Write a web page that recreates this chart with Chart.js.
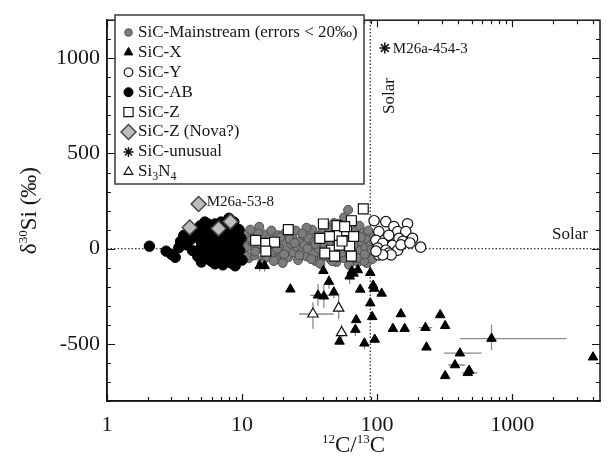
<!DOCTYPE html>
<html>
<head>
<meta charset="utf-8">
<script src="https://cdn.jsdelivr.net/npm/chart.js@4.4.1/dist/chart.umd.min.js"></script>
<style>
  html, body { margin: 0; padding: 0; background: #fff; }
  #myChart { display: block; }
</style>
</head>
<body>
<canvas id="myChart" width="609" height="464" style="width:609px;height:464px"></canvas>
<script>
// ---- data: 12C/13C (x) vs delta30Si permil (y) ----
const mainstreamX = [10,10.3,10.6,11,11.2,11.5,12,12.3,12.7,13,13.4,13.8,14.2,14.5,15,15.5,16,16.5,17,17.5,18,18.5,19,19.5,20,21,21.5,22,23,23.5,24,25,25.5,26,27,28,28.5,29,30,31,32,33,33.5,34,35,36,37,38,39,40,41,42,43,44,45,46,47,48,49,50,51,52,53,54,55,56,57,58,60,61,62,63,64,65,66,68,69,70,72,73,74,75,77,78,80,82,84,86,88,90,92,94,14,20,30,38,48,57,62,80,
  10.8,11.8,12.5,13.2,14,15.2,16.2,17.2,18.2,19.2,20.5,22.5,24.5,26.5,28,30.5,32.5,35,37.5,40.5,43.5,46.5,50.5,54.5,58.5,63,67,71,76,81,86,91];
const mainstreamY = [40,-20,75,10,-50,100,30,-35,60,-5,115,40,-60,75,5,-30,55,95,-10,30,-55,70,15,-25,45,85,-5,-45,25,60,-20,95,10,-60,40,-15,70,20,-40,55,5,100,-25,35,-65,70,0,40,-45,90,15,-20,60,110,-55,30,75,-10,50,-70,20,130,-35,65,5,100,-50,40,-20,204,80,10,-60,150,45,-30,95,15,-70,60,120,-10,35,-45,85,5,-75,50,-25,20,-55,70,-80,-75,110,-80,135,165,-85,-65,
  -40,50,-15,80,20,-45,35,-65,0,60,-30,50,30,-35,80,0,-55,25,65,-35,-5,-65,55,-20,90,-35,20,-50,60,-30,95,-5];

const abX = [2.06,2.74,3.0,3.2,3.4,3.5,3.7,4.0,4.2,4.5,4.3,3.9,4.7,4.8,4.9,5.0,5.1,5.2,5.3,5.4,5.5,5.6,5.7,5.8,5.9,6.0,6.1,6.2,6.3,6.4,6.5,6.6,6.7,6.8,6.9,7.0,7.1,7.2,7.4,7.5,7.6,7.8,7.9,8.0,8.1,8.2,8.4,8.5,8.6,8.7,8.9,9.0,9.2,9.3,9.5,9.6,9.8,10.0,5.0,6.3,7.2,8.3,8.0,7.0,5.6,4.7];
const abY = [13,-13,-30,-45,5,38,70,82,50,100,-10,20,60,-20,120,20,-50,90,140,-5,50,-40,110,10,-65,75,30,-25,130,0,-55,90,45,-15,60,-45,115,15,-70,80,35,-30,150,5,60,-55,110,25,-20,140,-90,70,-40,30,100,-10,55,-60,-70,-80,-85,-75,160,140,130,-40];

const yGrainX = [95,116,133,168,142,103,122,163,145,98,110,130,155,183,101,116,142,103,122,210,127,110,98,150,175];
const yGrainY = [147,142,116,131,90,90,70,90,54,44,28,18,39,54,3,-8,-8,-33,-23,8,-33,-33,-13,20,30];

const zX = [12.6,15,17.4,15,22,37.7,44.6,52.5,59.5,64.5,50.5,57.5,79,46,52.5,62.6,64.5,41,48.5,67,40,55];
const zY = [44,28,34,-13,100,54,64,70,95,147,121,116,209,-8,18,13,-39,-23,-39,64,130,40];

const novaX = [4.77,4.1,6.7,8.2];
const novaY = [235,111,106,142];

const xGrainX = [13.5,14.7,22.8,40,44,47.8,36.5,40.3,62.6,67,72,65,89,75,93.5,95,108,89,92,70,69,96,80.5,52.7,150,131,160,228,232,293,319,319,377,410,469,480,703,3970];
const xGrainY = [-90,-90,-213,-116,-173,-229,-245,-250,-145,-130,-112,-118,-126,-214,-193,-209,-235,-286,-358,-374,-425,-477,-497,-487,-343,-420,-420,-415,-518,-348,-405,-668,-611,-549,-652,-640,-472,-570];

const si3n4X = [33.5,51.9,54.6];
const si3n4Y = [-343,-312,-441];

const unusualX = [114];
const unusualY = [1054];

// error bars: horizontal (at y, from..to in x) and vertical (at x, from..to in y)
const hBarY    = [-472,-549,-611,-652,-415,-343,-245];
const hBarFrom = [410,313,336,425,203,26.5,32];
const hBarTo   = [2520,594,448,553,256,47.7,46];
const vBarX    = [703,33.5,51.9,54.6,36.5,40.3,44,47.8,13.5,14.7,69,80.5,62.6,67,22.8];
const vBarFrom = [-400,-281,-240,-400,-185,-190,-140,-200,-60,-60,-400,-470,-110,-100,-195];
const vBarTo   = [-534,-420,-369,-480,-300,-310,-210,-260,-120,-120,-460,-530,-185,-165,-230];

const solarRatio = 89;
const solarDelta = 0;

const xTicks = [1, 10, 100, 1000];
const yTicks = [-500, 0, 500, 1000];
const xRange = [1, 4470];
const yRange = [-800, 1200];

// ---- helpers ----
const serif = "'Liberation Serif', 'Times New Roman', serif";
const ink = "#161616";
const pts = (xs, ys) => xs.map((x, i) => ({ x, y: ys[i] }));

const errData = [];
hBarY.forEach((y, i) => {
  errData.push({ x: hBarFrom[i], y }, { x: hBarTo[i], y }, { x: hBarTo[i], y: null });
});
vBarX.forEach((x, i) => {
  errData.push({ x, y: vBarFrom[i] }, { x, y: vBarTo[i] }, { x, y: null });
});

function drawRich(ctx, parts, x, y) {
  let w = 0;
  parts.forEach(p => { ctx.font = p.size + "px " + serif; p.w = ctx.measureText(p.t).width; w += p.w; });
  let cx = x - w / 2;
  ctx.textAlign = "left";
  ctx.textBaseline = "alphabetic";
  parts.forEach(p => {
    ctx.font = p.size + "px " + serif;
    ctx.fillText(p.t, cx, y + (p.dy || 0));
    cx += p.w;
  });
}

const decorPlugin = {
  id: "decor",
  afterDraw(chart) {
    const { ctx, chartArea: a } = chart;
    const xs = chart.scales.x, ys = chart.scales.y;
    ctx.save();

    // frame
    ctx.strokeStyle = ink;
    ctx.lineWidth = 1.5;
    ctx.strokeRect(a.left, a.top, a.right - a.left, a.bottom - a.top);

    // inward ticks
    ctx.lineWidth = 1.2;
    ctx.beginPath();
    for (let d = 1; d <= 1000; d *= 10) {
      for (let m = 1; m <= 9; m++) {
        const v = d * m;
        if (v > xs.max) break;
        const px = Math.round(xs.getPixelForValue(v)) + 0.5;
        const len = m === 1 ? 7 : 4;
        ctx.moveTo(px, a.bottom); ctx.lineTo(px, a.bottom - len);
        ctx.moveTo(px, a.top); ctx.lineTo(px, a.top + len);
      }
    }
    for (let v = yRange[0]; v <= yRange[1]; v += 100) {
      const py = Math.round(ys.getPixelForValue(v)) + 0.5;
      const len = v % 500 === 0 ? 8 : 4;
      ctx.moveTo(a.left, py); ctx.lineTo(a.left + len, py);
      ctx.moveTo(a.right, py); ctx.lineTo(a.right - len, py);
    }
    ctx.stroke();

    ctx.fillStyle = ink;
    // axis titles
    drawRich(ctx, [
      { t: "12", size: 13, dy: -9 }, { t: "C/", size: 23 },
      { t: "13", size: 13, dy: -9 }, { t: "C", size: 23 }
    ], (a.left + a.right) / 2, 452);
    ctx.save();
    ctx.translate(36, (a.top + a.bottom) / 2);
    ctx.rotate(-Math.PI / 2);
    drawRich(ctx, [
      { t: "\u03b4", size: 23 }, { t: "30", size: 13, dy: -9 },
      { t: "Si (\u2030)", size: 23 }
    ], 0, 0);
    ctx.restore();

    // annotations
    ctx.font = "15px " + serif;
    ctx.textAlign = "left";
    ctx.textBaseline = "middle";
    ctx.fillText("M26a-454-3", xs.getPixelForValue(unusualX[0]) + 8, ys.getPixelForValue(unusualY[0]) + 1);
    ctx.fillText("M26a-53-8", xs.getPixelForValue(novaX[0]) + 8, ys.getPixelForValue(novaY[0]) - 2);
    ctx.font = "17px " + serif;
    ctx.textAlign = "right";
    ctx.fillText("Solar", a.right - 12, ys.getPixelForValue(solarDelta) - 14);
    ctx.save();
    ctx.translate(xs.getPixelForValue(solarRatio) + 19, 96);
    ctx.rotate(-Math.PI / 2);
    ctx.textAlign = "center";
    ctx.fillText("Solar", 0, 0);
    ctx.restore();

    // legend box
    const bx = 115, by = 15, bw = 249, bh = 169;
    ctx.fillStyle = "#fff";
    ctx.fillRect(bx, by, bw, bh);
    ctx.strokeStyle = "#3a3a3a";
    ctx.lineWidth = 1.5;
    ctx.strokeRect(bx, by, bw, bh);
    const legendSets = chart.data.datasets.filter(d => d.inLegend);
    legendSets.forEach((d, i) => {
      const ly = 32.5 + i * 19.9;
      ctx.fillStyle = d.backgroundColor;
      ctx.strokeStyle = d.borderColor;
      ctx.lineWidth = d.borderWidth;
      Chart.helpers.drawPoint(ctx, {
        pointStyle: d.pointStyle, radius: d.legendRadius, rotation: 0, borderWidth: d.borderWidth
      }, 128.5, ly);
      ctx.fillStyle = ink;
      ctx.font = "17px " + serif;
      ctx.textAlign = "left";
      ctx.textBaseline = "middle";
      if (d.label === "Si3N4") {
        let tx = 138;
        [["Si", 0, 17], ["3", 5, 12], ["N", 0, 17], ["4", 5, 12]].forEach(([t, dy, s]) => {
          ctx.font = s + "px " + serif;
          ctx.fillText(t, tx, ly + dy);
          tx += ctx.measureText(t).width;
        });
      } else {
        ctx.fillText(d.label, 138, ly);
      }
    });
    ctx.restore();
  }
};

const ctx = document.getElementById("myChart").getContext("2d");
const myChart = new Chart(ctx, {
  type: "scatter",
  data: {
    datasets: [
      { label: "SiC-Mainstream (errors < 20\u2030)", inLegend: true, order: 7,
        data: pts(mainstreamX, mainstreamY), pointStyle: "circle", pointRadius: 4.5, legendRadius: 3.8,
        backgroundColor: "#7d7d7d", borderColor: "#4e4e4e", borderWidth: 1 },
      { label: "SiC-X", inLegend: true, order: 2,
        data: pts(xGrainX, xGrainY), pointStyle: "triangle", pointRadius: 5.5, legendRadius: 5,
        backgroundColor: "#000", borderColor: "#000", borderWidth: 1 },
      { label: "SiC-Y", inLegend: true, order: 4,
        data: pts(yGrainX, yGrainY), pointStyle: "circle", pointRadius: 5.2, legendRadius: 4.3,
        backgroundColor: "#fff", borderColor: "#111", borderWidth: 1.2 },
      { label: "SiC-AB", inLegend: true, order: 6,
        data: pts(abX, abY), pointStyle: "circle", pointRadius: 5.2, legendRadius: 4.5,
        backgroundColor: "#000", borderColor: "#000", borderWidth: 1 },
      { label: "SiC-Z", inLegend: true, order: 5,
        data: pts(zX, zY), pointStyle: "rect", pointRadius: 7, legendRadius: 6.5,
        backgroundColor: "#fff", borderColor: "#111", borderWidth: 1.2 },
      { label: "SiC-Z (Nova?)", inLegend: true, order: 3,
        data: pts(novaX, novaY), pointStyle: "rectRot", pointRadius: 7.5, legendRadius: 7.5,
        backgroundColor: "#bdbdbd", borderColor: "#444", borderWidth: 1.5 },
      { label: "SiC-unusual", inLegend: true, order: 0,
        data: pts(unusualX, unusualY), pointStyle: "star", pointRadius: 5.5, legendRadius: 5,
        backgroundColor: "#111", borderColor: "#111", borderWidth: 1.5 },
      { label: "Si3N4", inLegend: true, order: 1,
        data: pts(si3n4X, si3n4Y), pointStyle: "triangle", pointRadius: 6, legendRadius: 5,
        backgroundColor: "#fff", borderColor: "#111", borderWidth: 1.2 },
      { label: "error bars", order: 8, data: errData, showLine: true, spanGaps: false,
        pointRadius: 0, borderColor: "#8a8a8a", borderWidth: 1.3 },
      { label: "solar 12C/13C", order: 9, showLine: true, pointRadius: 0,
        data: [{ x: solarRatio, y: yRange[0] }, { x: solarRatio, y: yRange[1] }],
        borderColor: "#333", borderWidth: 1.3, borderDash: [1.5, 2] },
      { label: "solar d30Si", order: 9, showLine: true, pointRadius: 0,
        data: [{ x: xRange[0], y: solarDelta }, { x: xRange[1], y: solarDelta }],
        borderColor: "#333", borderWidth: 1.3, borderDash: [1.5, 2] }
    ]
  },
  options: {
    responsive: false,
    animation: false,
    layout: { padding: { top: 13, right: 2, left: 0, bottom: 0 } },
    plugins: { legend: { display: false }, tooltip: { enabled: false } },
    scales: {
      x: {
        type: "logarithmic", min: xRange[0], max: xRange[1],
        afterBuildTicks: s => { s.ticks = xTicks.map(v => ({ value: v })); },
        afterFit: s => { s.height = 63; },
        ticks: { callback: v => String(v), font: { family: serif, size: 22 }, color: ink,
                 padding: 11, maxRotation: 0, autoSkip: false },
        grid: { display: false, drawTicks: false },
        border: { display: true, color: ink, width: 1.5 }
      },
      y: {
        type: "linear", min: yRange[0], max: yRange[1],
        afterBuildTicks: s => { s.ticks = yTicks.map(v => ({ value: v })); },
        afterFit: s => { s.width = 107; },
        ticks: { callback: v => String(v), font: { family: serif, size: 22 }, color: ink, padding: 7 },
        grid: { display: false, drawTicks: false },
        border: { display: true, color: ink, width: 1.5 }
      }
    }
  },
  plugins: [decorPlugin]
});
</script>
</body>
</html>
